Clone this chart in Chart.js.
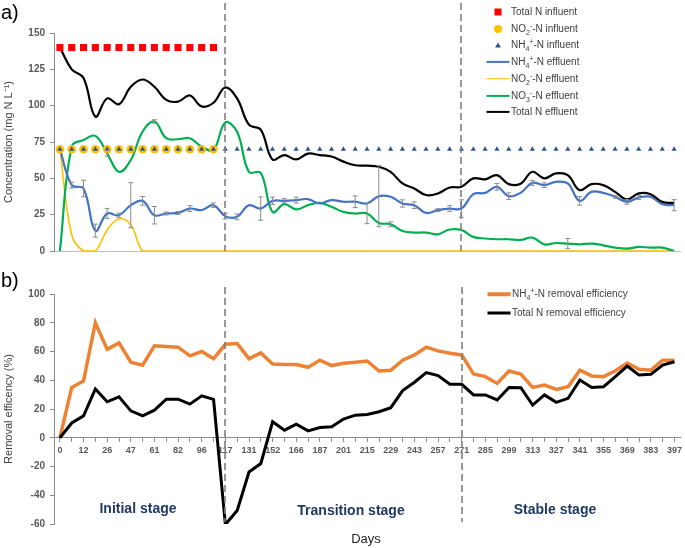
<!DOCTYPE html>
<html>
<head>
<meta charset="utf-8">
<script src="https://cdn.jsdelivr.net/npm/chart.js@4"></script>
<style>
  body { margin: 0; background: #fff; font-family: 'Liberation Sans', Arial, sans-serif; }
  #wrap { position: relative; width: 685px; height: 548px; overflow: hidden; }
  #topChart { position: absolute; left: 0; top: 0; }
  #bottomChart { position: absolute; left: 0; top: 265px; }
  .txt { position: absolute; white-space: nowrap; }
  .panel { font-size: 20px; color: #000; left: 1px; }
  .stage { font-weight: bold; font-size: 14px; color: #1F3864; transform: translate(-50%, -50%); }
  .days { font-size: 13px; color: #262626; transform: translate(-50%, -50%); }
  .leg { position: absolute; font-size: 10px; color: #404040; height: 14px; line-height: 14px; white-space: nowrap; }
  .leg .mk { display: inline-block; position: relative; width: 23px; height: 14px; vertical-align: top; margin-right: 2px; }
  .leg .mk i { position: absolute; left: 50%; top: 50%; transform: translate(-50%, -50%); display: block; }
  .leg sub, .leg sup { font-size: 7px; line-height: 0; }
</style>
</head>
<body>
<div id="wrap">
  <canvas id="topChart" width="685" height="265"></canvas>
  <canvas id="bottomChart" width="685" height="283"></canvas>
  <div class="txt panel" style="top:1px;">a)</div>
  <div class="txt panel" style="top:269px;">b)</div>
  <div class="txt stage" style="left:138px; top:508px;">Initial stage</div>
  <div class="txt stage" style="left:351px; top:510px;">Transition stage</div>
  <div class="txt stage" style="left:555px; top:509px;">Stable stage</div>
  <div class="txt days" style="left:366px; top:538px;">Days</div>
  <div id="legendTop"></div>
  <div id="legendBottom"></div>
</div>
<script>
// day labels shown under every second sample
const days = [0, 12, 26, 47, 61, 82, 96, 117, 131, 152, 166, 187, 201, 215, 229, 243, 257,
  271, 285, 299, 313, 327, 341, 355, 369, 383, 397];
const stageDays = [117, 271];

// a) concentrations (mg N/L)
const totalNInf = [140, 140, 140, 140, 140, 140, 140, 140, 140, 140, 140, 140, 140, 140];
const no2Inf = [70, 70, 70, 70, 70, 70, 70, 70, 70, 70, 70, 70, 70, 70];
const nh4Inf = [70, 70, 70, 70, 70, 70, 70, 70, 70, 70, 70, 70, 70, 70, 70, 70, 70, 70,
  70, 70, 70, 70, 70, 70, 70, 70, 70, 70, 70, 70, 70, 70, 70, 70, 70, 70,
  70, 70, 70, 70, 70, 70, 70, 70, 70, 70, 70, 70, 70, 70, 70, 70, 70];
const nh4Eff = [70, 45.3, 43, 14, 25.8, 24.6, 31.5, 34.5, 24.6, 25.8, 26.2, 29.2, 28.1, 31.5,
  24, 23.5, 31.5, 29.2, 34.5, 34.5, 35, 35.7, 32.7, 35, 33.9, 33.9, 32.7, 37.7, 37.3, 32.7,
  31.5, 26.2, 28.1, 29.2, 29.2, 39.1, 40, 44.2, 37.7, 40, 46.9, 45.3, 47.6, 46.5, 34.5,
  40.7, 40, 37.3, 33.8, 36.8, 37.3, 32.2, 31.5];
const nh4EffErr = [0, 2, 5.7, 4.5, 3.5, 1.5, 15.5, 3, 6, 1, 1, 2, 0, 1.5, 2, 2, 0, 8, 2.5, 1.5,
  2, 0, 0, 0, 0, 4, 0, 21, 0, 2.5, 2.3, 0, 1, 2, 6, 0, 0, 2.3, 2.3, 0, 1.7, 1.6, 0, 0, 3,
  0, 0, 1, 1.6, 1.4, 0, 0, 3.8];
const no2Eff = [70, 11, 0, 0, 14.5, 22, 18, 0, 0, 0, 0, 0, 0, 0, 0, 0, 0, 0, 0, 0, 0, 0, 0, 0,
  0, 0, 0, 0, 0, 0, 0, 0, 0, 0, 0, 0, 0, 0, 0, 0, 0, 0, 0, 0, 0, 0, 0, 0, 0, 0, 0, 0, 0];
const no3Eff = [0, 72, 76.4, 79.2, 67.2, 54.5, 62.6, 82.2, 89.1, 77.6, 76.9, 77.6, 71.8, 69.5,
  88.4, 82, 54.5, 53.8, 26.9, 32.2, 28.6, 31.5, 33.1, 30.4, 26.9, 25.8, 25.8, 19.3, 18.4,
  13.8, 12.7, 12.7, 11.5, 14.8, 14.4, 9.7, 8.6, 8.1, 8.1, 7.6, 9.2, 4.6, 5.5, 5.1, 4.6, 5.1,
  3.9, 2.3, 1.6, 2.8, 2.3, 2.3, 0];
const no3EffErr = [0, 0, 0, 0, 2, 0, 0, 0, 1.2, 0, 0, 0, 0, 0, 0, 0, 0, 0, 0, 0, 0, 0, 0, 0, 0,
  0, 7, 0, 1.7, 0, 0, 0, 0, 0, 0, 0, 0, 0, 0, 0, 0, 0, 0, 3.5, 0, 0, 0, 0, 0, 0, 0, 0, 0];
const totalNEff = [140, 125, 119, 92.5, 105, 101, 113, 118, 113, 104, 102.8, 107, 99.5, 102,
  112.5, 105, 87, 83.5, 63, 66, 63, 67, 66, 65, 61.5, 59, 58.7, 58, 54.5, 46.5, 43, 38.5,
  39.6, 43.7, 44.2, 50, 49.3, 52.2, 46, 46.3, 54.5, 50, 53.4, 52.2, 41.9, 46, 45.3, 40.7,
  35.5, 39.6, 39.1, 33.8, 33.1];

// b) removal efficiency (%)
const nh4Removal = [0, 35, 39.5, 80, 61.5, 66, 52.5, 50.5, 64, 63.5, 63, 57, 60, 55, 65, 65.5,
  55, 59, 51.3, 51, 51, 49, 54, 50.2, 51.8, 52.5, 53.4, 46.4, 47, 54, 57.6, 63, 60.4, 58.8,
  57.6, 44.3, 42.5, 37.8, 46.4, 44.3, 35, 36.6, 33.6, 35.5, 47, 43, 42.5, 46.6, 52, 47.6,
  47, 54, 54];
const totalNRemoval = [0, 10.3, 15.2, 34, 25, 28.5, 18.7, 15.2, 19.2, 26.8, 26.8, 23.4, 29.2,
  26.7, -60.4, -50.6, -23.8, -17.9, 11.1, 5.3, 9.5, 4.8, 7.1, 7.6, 13, 15.7, 16.2, 18.1,
  20.9, 32.8, 38.6, 45.3, 43.2, 37.2, 37.2, 29.8, 29.8, 26.3, 35, 34.8, 22.7, 29.8, 24.6,
  27.4, 40.2, 35, 35.5, 42.5, 49.9, 43.6, 44.1, 50.6, 52.9];

const concTicks = [0, 25, 50, 75, 100, 125, 150];
const effTicks = [-60, -40, -20, 0, 20, 40, 60, 80, 100];

// one category per sample, every second one carries a day label
const labels = [];
days.forEach((d, i) => {
  labels.push(String(d));
  if (i < days.length - 1) labels.push('');
});

Chart.defaults.font.family = "'Liberation Sans', Arial, sans-serif";
Chart.defaults.color = '#595959';

const axisGray = '#8c8c8c';

const errorBars = {
  id: 'errorBars',
  afterDatasetsDraw(chart) {
    const ctx = chart.ctx;
    const y = chart.scales.y;
    ctx.save();
    ctx.strokeStyle = '#8c8c8c';
    ctx.lineWidth = 1;
    chart.data.datasets.forEach((ds, i) => {
      if (!ds.errors) return;
      const meta = chart.getDatasetMeta(i);
      ds.errors.forEach((e, j) => {
        if (!e) return;
        const px = meta.data[j].x;
        const top = y.getPixelForValue(ds.data[j] + e);
        const bot = y.getPixelForValue(Math.max(ds.data[j] - e, 0));
        ctx.beginPath();
        ctx.moveTo(px, top); ctx.lineTo(px, bot);
        ctx.moveTo(px - 2.5, top); ctx.lineTo(px + 2.5, top);
        ctx.moveTo(px - 2.5, bot); ctx.lineTo(px + 2.5, bot);
        ctx.stroke();
      });
    });
    ctx.restore();
  }
};

const stageLines = {
  id: 'stageLines',
  afterDraw(chart, args, opts) {
    const ctx = chart.ctx;
    const x = chart.scales.x;
    ctx.save();
    ctx.strokeStyle = '#7f7f7f';
    ctx.lineWidth = 1.6;
    ctx.setLineDash([7, 4]);
    stageDays.forEach(d => {
      const px = Math.round(x.getPixelForValue(labels.indexOf(String(d))));
      ctx.beginPath();
      ctx.moveTo(px, opts.top);
      ctx.lineTo(px, opts.bottom);
      ctx.stroke();
    });
    ctx.restore();
  }
};

function yAxis(min, max, ticks, title) {
  return {
    min: min, max: max,
    afterFit: s => { s.width = 54; },
    afterBuildTicks: s => { s.ticks = ticks.map(v => ({ value: v })); },
    grid: { display: true, drawOnChartArea: false, drawTicks: true, tickLength: 4, color: axisGray },
    border: { display: true, color: axisGray, width: 1 },
    ticks: { font: { size: 10, weight: 'bold' }, color: '#595959', padding: 5 },
    title: { display: true, text: title, font: { size: 11 }, color: '#404040', padding: { top: 2, bottom: 0 } }
  };
}

const topChart = new Chart(document.getElementById('topChart'), {
  type: 'line',
  data: {
    labels: labels,
    datasets: [
      { label: 'Total N influent', data: totalNInf, showLine: false, pointStyle: 'rect',
        pointRadius: 5, backgroundColor: '#FF0000', pointBorderWidth: 0, order: 2 },
      { label: 'NO₂⁻-N influent', data: no2Inf, showLine: false, pointStyle: 'circle',
        pointRadius: 4.3, backgroundColor: '#FFC000', pointBorderWidth: 0, order: 1 },
      { label: 'NH₄⁺-N influent', data: nh4Inf, showLine: false, pointStyle: 'triangle',
        pointRadius: 3, backgroundColor: '#2F5597', pointBorderWidth: 0, order: 0 },
      { label: 'NH₄⁺-N effluent', data: nh4Eff, errors: nh4EffErr, borderColor: '#4472C4',
        borderWidth: 2.2, pointRadius: 0, tension: 0.4, order: 4 },
      { label: 'NO₂⁻-N effluent', data: no2Eff, borderColor: '#FFC000',
        borderWidth: 1.6, pointRadius: 0, tension: 0.4, order: 6 },
      { label: 'NO₃⁻-N effluent', data: no3Eff, errors: no3EffErr, borderColor: '#00B050',
        borderWidth: 2.2, pointRadius: 0, tension: 0.4, order: 5 },
      { label: 'Total N effluent', data: totalNEff, borderColor: '#000000',
        borderWidth: 2.2, pointRadius: 0, tension: 0.4, order: 3 }
    ]
  },
  options: {
    responsive: false,
    animation: false,
    layout: { padding: { left: 0, right: 2, top: 33, bottom: 14 } },
    plugins: {
      legend: { display: false },
      tooltip: { enabled: false },
      stageLines: { top: 3, bottom: 251 }
    },
    scales: {
      x: {
        type: 'category',
        offset: true,
        afterFit: s => { s.height = 0; },
        grid: { display: false },
        border: { display: true, color: '#bfbfbf' },
        ticks: { display: false }
      },
      y: yAxis(0, 150, concTicks, 'Concentration (mg N L⁻¹)')
    }
  },
  plugins: [errorBars, stageLines]
});

const bottomChart = new Chart(document.getElementById('bottomChart'), {
  type: 'line',
  data: {
    labels: labels,
    datasets: [
      { label: 'NH₄⁺-N removal efficiency', data: nh4Removal, borderColor: '#EE8234',
        borderWidth: 3.5, pointRadius: 0, tension: 0, order: 1 },
      { label: 'Total N removal efficiency', data: totalNRemoval, borderColor: '#000000',
        borderWidth: 3, pointRadius: 0, tension: 0, order: 0 }
    ]
  },
  options: {
    responsive: false,
    animation: false,
    layout: { padding: { left: 0, right: 2, top: 29, bottom: 24 } },
    plugins: {
      legend: { display: false },
      tooltip: { enabled: false },
      stageLines: { top: 22, bottom: 257 }
    },
    scales: {
      x: {
        type: 'category',
        offset: true,
        position: { y: 0 },
        grid: { display: true, drawOnChartArea: false, drawTicks: true, tickLength: 4, color: axisGray, offset: false },
        border: { display: true, color: axisGray },
        ticks: { autoSkip: false, maxRotation: 0, minRotation: 0, padding: 3,
          font: { size: 9, weight: 'bold' }, color: '#595959' }
      },
      y: yAxis(-60, 100, effTicks, 'Removal efficency (%)')
    }
  },
  plugins: [stageLines]
});

// legends drawn as html next to the plot, built from the datasets
function richLabel(s) {
  return s.replace(/₂/g, '<sub>2</sub>').replace(/₃/g, '<sub>3</sub>').replace(/₄/g, '<sub>4</sub>')
    .replace(/⁻/g, '<sup>-</sup>').replace(/⁺/g, '<sup>+</sup>');
}
function markerHtml(ds) {
  if (ds.showLine === false) {
    if (ds.pointStyle === 'rect') return `<i style="width:7px;height:7px;background:${ds.backgroundColor}"></i>`;
    if (ds.pointStyle === 'circle') return `<i style="width:8px;height:8px;border-radius:50%;background:${ds.backgroundColor}"></i>`;
    return `<i style="width:0;height:0;border-left:3px solid transparent;border-right:3px solid transparent;border-bottom:5px solid ${ds.backgroundColor}"></i>`;
  }
  return `<i style="width:23px;height:${ds.borderWidth}px;background:${ds.borderColor}"></i>`;
}
function buildLegend(el, chart, left, top, step) {
  el.innerHTML = chart.data.datasets.map((ds, i) =>
    `<div class="leg" style="left:${left}px;top:${top + i * step}px"><span class="mk">${markerHtml(ds)}</span>${richLabel(ds.label)}</div>`
  ).join('');
}
buildLegend(document.getElementById('legendTop'), topChart, 486, 5, 16.7);
buildLegend(document.getElementById('legendBottom'), bottomChart, 487, 287, 19);
</script>
</body>
</html>
